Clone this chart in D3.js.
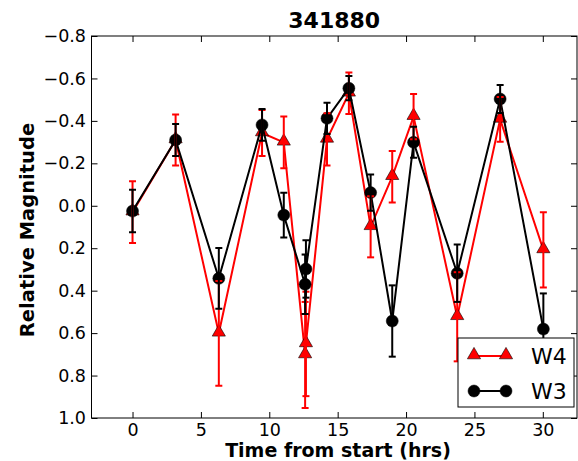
<!DOCTYPE html>
<html>
<head>
<meta charset="utf-8">
<script src="https://cdn.jsdelivr.net/npm/d3@7"></script>
<style>
  body { margin: 0; background: #fff; }
  text { font-family: "DejaVu Sans", sans-serif; }
</style>
</head>
<body>
<script>
// data (y axis is relative magnitude, inverted)
var times = [0, 3.15, 6.31, 9.47, 11.06, 12.62, 12.68, 14.22, 15.82, 17.41, 18.99, 20.55, 23.74, 26.88, 30.04];
var w3 = [0.025, -0.31, 0.342, -0.381, 0.044, 0.370, 0.298, -0.412, -0.554, -0.062, 0.543, -0.299, 0.318, -0.503, 0.581];
var w3Err = [0.10, 0.075, 0.143, 0.075, 0.105, 0.14, 0.135, 0.074, 0.057, 0.085, 0.168, 0.073, 0.135, 0.066, 0.168];
var w4 = [0.03, -0.31, 0.601, -0.343, -0.299, 0.703, 0.651, -0.313, -0.53, 0.099, -0.137, -0.420, 0.523, -0.407, 0.208];
var w4Err = [0.145, 0.12, 0.247, 0.108, 0.122, 0.25, 0.246, 0.123, 0.098, 0.144, 0.121, 0.107, 0.21, 0.105, 0.177];
var xTicks = [0, 5, 10, 15, 20, 25, 30];
var yTicks = [-0.8, -0.6, -0.4, -0.2, 0.0, 0.2, 0.4, 0.6, 0.8, 1.0];
var title = "341880";

// set the dimensions and margins of the graph
var margin = {top: 36, right: 1, bottom: 43, left: 91.5},
    width = 578 - margin.left - margin.right,
    height = 461 - margin.top - margin.bottom;

var x = d3.scaleLinear().domain([-3, 32.5]).range([0, width]);
var y = d3.scaleLinear().domain([-0.8, 1.0]).range([0, height]);

var svg = d3.select("body").append("svg")
    .attr("width", 578)
    .attr("height", 461)
  .append("g")
    .attr("transform", "translate(" + margin.left + "," + margin.top + ")");

var fmt = function(d) { return d3.format(".1f")(d).replace("-", "\u2212"); };

// clip so nothing leaks outside the frame
svg.append("clipPath").attr("id", "clip")
  .append("rect").attr("width", width).attr("height", height);

var plot = svg.append("g").attr("clip-path", "url(#clip)");

var series = [
  {name: "W4", vals: w4, err: w4Err, color: "#ff0000", marker: "triangle"},
  {name: "W3", vals: w3, err: w3Err, color: "#000000", marker: "circle"}
];

function drawMarker(g, s, cx, cy) {
  if (s.marker == "circle") {
    g.append("circle").attr("cx", cx).attr("cy", cy).attr("r", 6)
      .attr("fill", "#000").attr("stroke", "#000").attr("stroke-width", 0.5);
  } else {
    g.append("path")
      .attr("d", d3.symbol().type(d3.symbolTriangle).size(75)())
      .attr("transform", "translate(" + cx + "," + (cy - 1) + ")")
      .attr("fill", s.color).attr("stroke", "#000").attr("stroke-width", 0.6);
  }
}

// lines and markers
series.forEach(function(s) {
  var line = d3.line()
    .x(function(d, i) { return x(times[i]); })
    .y(function(d) { return y(d); });
  plot.append("path")
    .datum(s.vals)
    .attr("d", line)
    .attr("fill", "none")
    .attr("stroke", s.color)
    .attr("stroke-width", 2);
  s.vals.forEach(function(v, i) { drawMarker(plot, s, x(times[i]), y(v)); });
});

// error bars on top
series.forEach(function(s) {
  var g = plot.append("g").attr("stroke", s.color).attr("stroke-width", 2);
  s.vals.forEach(function(v, i) {
    var cx = x(times[i]), y0 = y(v - s.err[i]), y1 = y(v + s.err[i]);
    g.append("line").attr("x1", cx).attr("x2", cx).attr("y1", y0).attr("y2", y1);
    g.append("line").attr("x1", cx - 3.5).attr("x2", cx + 3.5).attr("y1", y0).attr("y2", y0);
    g.append("line").attr("x1", cx - 3.5).attr("x2", cx + 3.5).attr("y1", y1).attr("y2", y1);
  });
});

// axes, ticks inward on all four sides
function styleAxis(g) {
  g.select(".domain").remove();
  g.selectAll(".tick line").attr("stroke", "#000");
  g.selectAll("text").attr("fill", "#000").style("font-size", "17.5px");
}
svg.append("g")
    .attr("transform", "translate(0," + height + ")")
    .call(d3.axisBottom(x).tickValues(xTicks).tickSize(-6).tickPadding(5.5).tickFormat(d3.format("d")))
    .call(styleAxis);
svg.append("g")
    .call(d3.axisTop(x).tickValues(xTicks).tickSize(-6).tickFormat(""))
    .call(styleAxis);
svg.append("g")
    .call(d3.axisLeft(y).tickValues(yTicks).tickSize(-6).tickPadding(5.5).tickFormat(fmt))
    .call(styleAxis);
svg.append("g")
    .attr("transform", "translate(" + width + ",0)")
    .call(d3.axisRight(y).tickValues(yTicks).tickSize(-6).tickFormat(""))
    .call(styleAxis);

svg.append("rect")
    .attr("width", width).attr("height", height)
    .attr("fill", "none").attr("stroke", "#000").attr("stroke-width", 1);

// legend
var leg = svg.append("g").attr("transform", "translate(" + (458 - margin.left) + "," + (338 - margin.top) + ")");
leg.append("rect").attr("width", 116).attr("height", 69)
    .attr("fill", "#fff").attr("stroke", "#000").attr("stroke-width", 1);
series.forEach(function(s, i) {
  var ly = 18 + i * 35;
  leg.append("line").attr("x1", 16).attr("x2", 48).attr("y1", ly).attr("y2", ly)
    .attr("stroke", s.color).attr("stroke-width", 2);
  drawMarker(leg, s, 16, ly);
  drawMarker(leg, s, 48, ly);
  leg.append("text").attr("x", 73).attr("y", ly + 8)
    .style("font-size", "22px").text(s.name);
});

// title and axis labels
svg.append("text")
    .attr("x", width / 2).attr("y", -7.7)
    .attr("text-anchor", "middle")
    .style("font-size", "22px").style("font-weight", "bold")
    .text(title);
svg.append("text")
    .attr("x", 338 - margin.left).attr("y", height + 39)
    .attr("text-anchor", "middle")
    .style("font-size", "19px").style("font-weight", "bold")
    .text("Time from start (hrs)");
svg.append("text")
    .attr("transform", "translate(" + (33.5 - margin.left) + "," + (230 - margin.top) + ") rotate(-90)")
    .attr("text-anchor", "middle")
    .style("font-size", "19.5px").style("font-weight", "bold")
    .text("Relative Magnitude");
</script>
</body>
</html>
